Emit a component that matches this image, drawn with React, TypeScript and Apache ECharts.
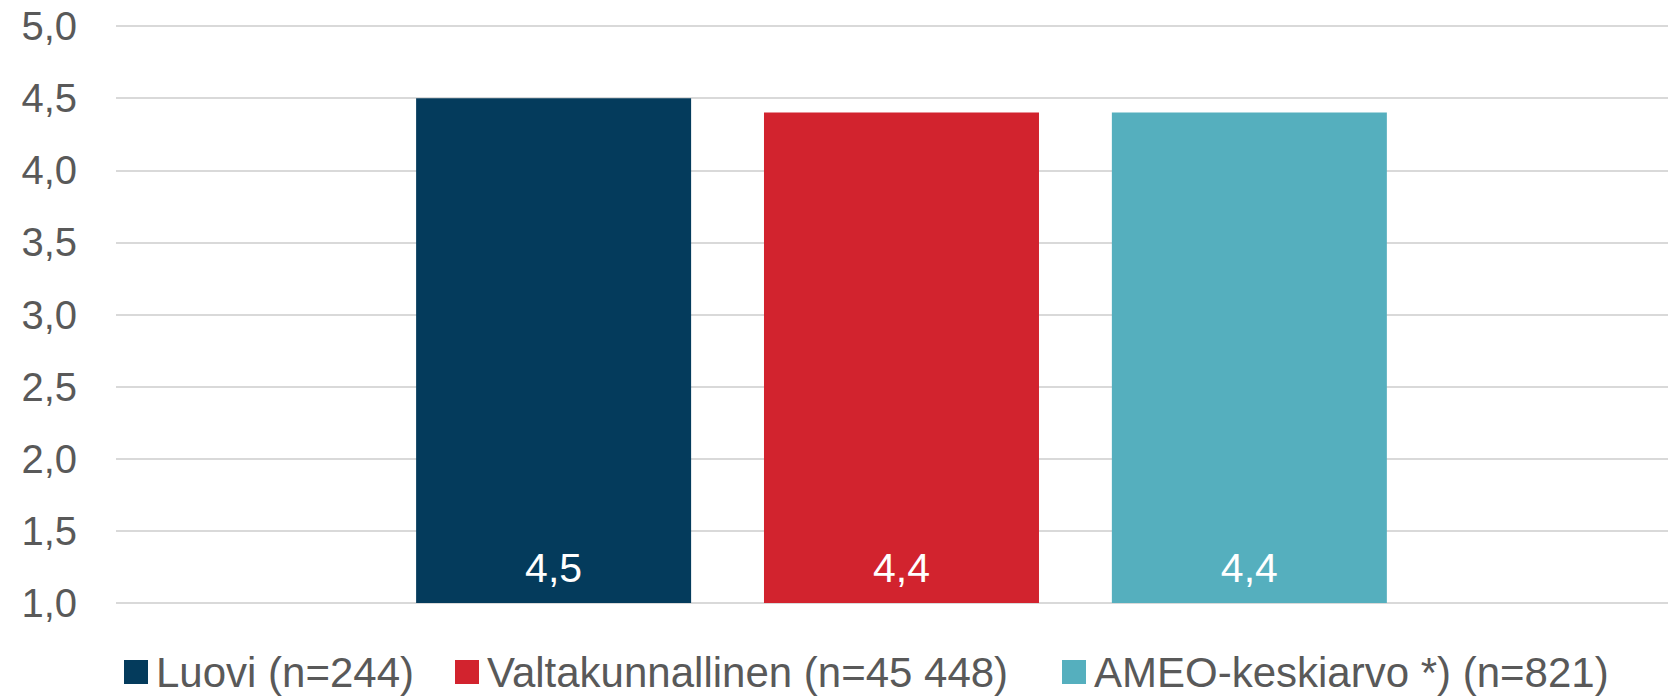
import React, { useEffect, useRef } from "react";
import * as echarts from "echarts";

const seriesNames = ["Luovi (n=244)", "Valtakunnallinen (n=45 448)", "AMEO-keskiarvo *) (n=821)"];
const seriesValues = [4.5, 4.4, 4.4];
const seriesColors = ["#043B5C", "#D2232E", "#55AFBE"];
const categories = [""];
const yMin = 1;
const yMax = 5;
const yInterval = 0.5;

const FONT = '"Liberation Sans", Arial, sans-serif';
const fmt = (v: number) => v.toFixed(1).replace(".", ",");
const legendLefts = [124, 455, 1062];

export default function App() {
  const ref = useRef<HTMLDivElement>(null);
  useEffect(() => {
    if (!ref.current) return;
    const chart = echarts.init(ref.current, null, { renderer: "svg" });
    const spacer = {
      name: "__spacer",
      type: "bar",
      barWidth: 15,
      barGap: "26.5%",
      silent: true,
      itemStyle: { color: "transparent" },
      data: [null],
    };
    chart.setOption({
      animation: false,
      backgroundColor: "#ffffff",
      textStyle: { fontFamily: FONT },
      grid: { left: 116, right: 0, top: 26, bottom: 93, containLabel: false },
      legend: seriesNames.map((name, i) => ({
        left: legendLefts[i],
        top: 649,
        padding: 0,
        itemWidth: 24,
        itemHeight: 24,
        icon: "rect",
        textStyle: {
          fontFamily: FONT,
          fontSize: 42,
          lineHeight: 46,
          color: "#595959",
          padding: [0, 0, 0, 3],
        },
        data: [name],
      })),
      xAxis: {
        type: "category",
        data: categories,
        axisLine: { show: false },
        axisTick: { show: false },
        axisLabel: { show: false },
      },
      yAxis: {
        type: "value",
        min: yMin,
        max: yMax,
        interval: yInterval,
        axisLine: { show: false },
        axisTick: { show: false },
        axisLabel: {
          formatter: (v: number) => fmt(v),
          fontFamily: FONT,
          fontSize: 40,
          color: "#595959",
          margin: 39,
        },
        splitLine: { show: true, lineStyle: { color: "#D9D9D9", width: 2 } },
      },
      series: [
        spacer,
        ...seriesNames.map((name, i) => ({
          name,
          type: "bar",
          barWidth: 275,
          barGap: "26.5%",
          itemStyle: { color: seriesColors[i] },
          data: [seriesValues[i]],
          label: {
            show: true,
            position: "insideBottom",
            distance: 15,
            formatter: (p: any) => fmt(p.value),
            color: "#ffffff",
            fontFamily: FONT,
            fontSize: 41,
          },
        })),
      ],
    });
    return () => chart.dispose();
  }, []);
  return (
    <div
      ref={ref}
      style={{ position: "fixed", left: 0, top: 0, width: 1668, height: 696, background: "#fff" }}
    />
  );
}
